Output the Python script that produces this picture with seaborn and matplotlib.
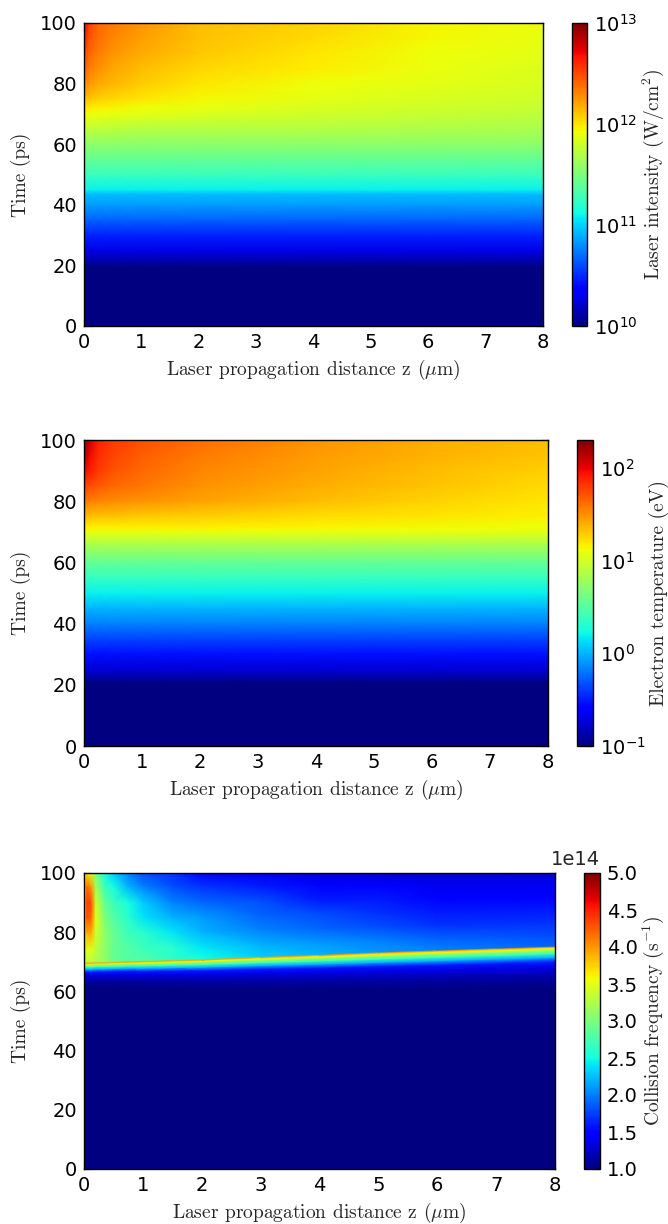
import numpy as np
import seaborn as sns
import matplotlib
matplotlib.use('Agg')
import matplotlib.pyplot as plt
from matplotlib.colors import LogNorm, Normalize

sns.set_style("white")
plt.rcParams['font.family'] = ['DejaVu Sans']
plt.rcParams['mathtext.fontset'] = 'dejavusans'
plt.rcParams['axes.unicode_minus'] = False

W, H = 668, 1224

z_grid = [0, 0.1, 0.25, 0.5, 1, 2, 4, 6, 8]

# laser intensity, log10(W/cm2)
i_t_low = [0, 19.5, 21, 25, 30, 35, 40, 43.5, 45, 50, 55, 60]
i_low = [10, 10, 10.1, 10.27, 10.48, 10.66, 10.84, 10.93, 11.08, 11.26, 11.41, 11.56]
i_t_high = [65, 70, 72, 75, 80, 85, 90, 95, 100]
i_high = [
    [11.74, 11.74, 11.74, 11.73, 11.71, 11.71, 11.70, 11.68, 11.67],
    [11.94, 11.92, 11.91, 11.89, 11.88, 11.85, 11.80, 11.77, 11.74],
    [12.00, 11.98, 11.965, 11.95, 11.92, 11.89, 11.83, 11.80, 11.77],
    [12.13, 12.10, 12.07, 12.04, 12.00, 11.94, 11.875, 11.83, 11.80],
    [12.30, 12.24, 12.19, 12.15, 12.085, 12.00, 11.92, 11.875, 11.83],
    [12.42, 12.33, 12.27, 12.20, 12.13, 12.04, 11.97, 11.90, 11.85],
    [12.52, 12.40, 12.33, 12.25, 12.18, 12.09, 12.00, 11.92, 11.875],
    [12.63, 12.46, 12.37, 12.30, 12.22, 12.12, 12.03, 11.94, 11.89],
    [12.72, 12.52, 12.40, 12.34, 12.25, 12.13, 12.06, 11.95, 11.905],
]

# electron temperature, log10(eV)
te_t_low = [0, 20.5, 22, 25, 30, 35, 40, 45, 50, 55, 60, 66]
te_low = [-1, -1, -0.9, -0.75, -0.54, -0.36, -0.17, 0.0, 0.19, 0.37, 0.55, 0.85]
te_t_high = [70, 70.8, 72, 75, 80, 85, 90, 95, 100]
te_high = [
    [1.08, 1.08, 1.08, 1.08, 1.08, 1.08, 1.08, 1.08, 1.06],
    [1.13, 1.13, 1.13, 1.13, 1.13, 1.13, 1.12, 1.11, 1.10],
    [1.18, 1.18, 1.18, 1.18, 1.18, 1.18, 1.16, 1.14, 1.11],
    [1.34, 1.33, 1.31, 1.31, 1.29, 1.28, 1.23, 1.20, 1.16],
    [1.57, 1.56, 1.54, 1.51, 1.48, 1.43, 1.34, 1.26, 1.20],
    [1.77, 1.74, 1.69, 1.64, 1.59, 1.49, 1.39, 1.31, 1.24],
    [1.97, 1.89, 1.81, 1.72, 1.64, 1.54, 1.43, 1.34, 1.28],
    [2.20, 1.97, 1.84, 1.76, 1.67, 1.57, 1.46, 1.38, 1.31],
    [2.30, 2.07, 1.90, 1.79, 1.71, 1.61, 1.48, 1.39, 1.34],
]

# collision frequency, 1e14 1/s, follows the tilted front
nu_z = [0, 0.05, 0.12, 0.2, 0.35, 0.5, 0.75, 1, 1.5, 2, 3, 4, 5, 6, 8]
nu_front_t = [69.6, 69.6, 69.6, 69.7, 69.7, 69.8, 70, 70.1, 70.4, 70.7, 71.5, 72.2, 73, 73.7, 75]
nu_front_width = [0.6, 0.6, 0.6, 0.6, 0.6, 0.6, 0.62, 0.65, 0.68, 0.72, 0.78, 0.84, 0.9, 0.95, 1.0]
nu_below_dt = [-14, -10, -7, -5, -3.5, -2.2, -1.2, -0.5, 0]
nu_below = [1.0, 1.15, 1.35, 1.6, 2.2, 2.7, 3.1, 3.6, 3.95]
nu_above_frac = [0.015, 0.15, 0.33, 0.5, 0.67, 0.85, 1.0]
nu_above = [
    [3.2, 3.3, 3.3, 3.2, 3.1, 2.9, 2.8, 2.8, 2.6, 2.5, 2.3, 2.2, 2.1, 2.0, 1.9],
    [3.2, 3.5, 3.5, 3.3, 3.1, 2.9, 2.8, 2.7, 2.6, 2.4, 2.2, 2.1, 2.0, 1.9, 1.8],
    [3.4, 3.9, 3.9, 3.4, 3.1, 2.9, 2.7, 2.6, 2.4, 2.2, 2.0, 1.9, 1.8, 1.7, 1.7],
    [3.6, 4.3, 4.2, 3.5, 3.0, 2.8, 2.6, 2.4, 2.2, 2.1, 1.9, 1.8, 1.7, 1.6, 1.6],
    [3.7, 4.4, 4.3, 3.4, 2.9, 2.7, 2.5, 2.3, 2.0, 1.9, 1.8, 1.6, 1.6, 1.5, 1.5],
    [3.6, 4.2, 4.0, 3.2, 2.7, 2.5, 2.2, 2.0, 1.8, 1.7, 1.6, 1.5, 1.5, 1.4, 1.4],
    [3.2, 3.7, 3.4, 3.0, 2.5, 2.3, 2.0, 1.8, 1.7, 1.5, 1.4, 1.35, 1.3, 1.3, 1.3],
]

xticks = list(range(9))
yticks = [0, 20, 40, 60, 80, 100]
xlabel = r'Laser propagation distance z ($\mu$m)'


def px_rect(left, top, right, bottom):
    return [left / W, 1 - bottom / H, (right - left) / W, (bottom - top) / H]


def draw_panel(axes_px, cbar_px, X, Y, C, norm, cticks, clabels, cbar_label):
    ax = fig.add_axes(px_rect(*axes_px))
    cax = fig.add_axes(px_rect(*cbar_px))
    sns.heatmap(C, ax=ax, cbar_ax=cax, cmap='jet', norm=norm, xticklabels=False, yticklabels=False)
    cb = ax.collections[0].colorbar
    # heatmap cells are index based, swap them for a smooth mesh on real axes
    ax.collections[0].remove()
    ax.pcolormesh(X, Y, C, cmap='jet', norm=norm, shading='gouraud')
    ax.set_xlim(0, 8)
    ax.set_ylim(0, 100)
    ax.set_xticks(xticks, [str(v) for v in xticks])
    ax.set_yticks(yticks, [str(v) for v in yticks])
    ax.tick_params(direction='in', length=5, width=0.8, top=True, right=True,
                   bottom=True, left=True, labelsize=14, pad=5, colors='black')
    for s in ax.spines.values():
        s.set_visible(True)
        s.set_color('black')
        s.set_linewidth(1)
    ax.set_xlabel(xlabel, family='cmr10', fontsize=14, math_fontfamily='cm', labelpad=4)
    ax.set_ylabel('Time (ps)', family='cmr10', fontsize=14, labelpad=6.5)

    cb.outline.set_linewidth(1)
    cb.outline.set_edgecolor('black')
    cb.set_ticks(cticks, labels=clabels)
    cb.ax.minorticks_off()
    cb.ax.tick_params(direction='in', length=5, width=0.8, right=True, left=False,
                      labelsize=14, pad=5, colors='black')
    cb.set_label(cbar_label, family='cmr10', fontsize=14, math_fontfamily='cm', labelpad=2)
    return ax, cax


fig = plt.figure(figsize=(W / 100, H / 100), dpi=100)
z_arr = np.array(z_grid)

# top panel
t1 = np.array(i_t_low + i_t_high)
c1 = np.vstack([np.tile(np.array(i_low)[:, None], (1, len(z_grid))), np.array(i_high)])
draw_panel((84, 23, 543, 326), (572, 23, 587, 326), z_arr, t1, 10.0 ** c1,
           LogNorm(1e10, 1e13), [1e10, 1e11, 1e12, 1e13],
           [r'$10^{10}$', r'$10^{11}$', r'$10^{12}$', r'$10^{13}$'],
           r'Laser intensity (W/cm$^2$)')

# middle panel
t2 = np.array(te_t_low + te_t_high)
c2 = np.vstack([np.tile(np.array(te_low)[:, None], (1, len(z_grid))), np.array(te_high)])
draw_panel((84, 440, 548, 746), (577, 440, 593, 746), z_arr, t2, 10.0 ** c2,
           LogNorm(0.1, 200), [0.1, 1, 10, 100],
           [r'$10^{-1}$', r'$10^{0}$', r'$10^{1}$', r'$10^{2}$'],
           'Electron temperature (eV)')

# bottom panel, mesh rows bend with the front
front = np.array(nu_front_t)
width = np.array(nu_front_width)
rows_t = [np.zeros(len(nu_z))]
rows_c = [np.full(len(nu_z), 1.0)]
for dt, v in zip(nu_below_dt, nu_below):
    rows_t.append(front + dt * width)
    rows_c.append(np.full(len(nu_z), v))
for frac, vals in zip(nu_above_frac, nu_above):
    rows_t.append(front + frac * (100 - front))
    rows_c.append(np.array(vals))
t3 = np.vstack(rows_t)
c3 = np.vstack(rows_c) * 1e14
z3 = np.tile(np.array(nu_z), (t3.shape[0], 1))
ax3, cax3 = draw_panel((84, 873, 555, 1169), (584, 873, 600, 1169), z3, t3, c3,
                       Normalize(1e14, 5e14), [v * 1e14 for v in [1, 1.5, 2, 2.5, 3, 3.5, 4, 4.5, 5]],
                       ['1.0', '1.5', '2.0', '2.5', '3.0', '3.5', '4.0', '4.5', '5.0'],
                       r'Collision frequency (s$^{-1}$)')
cax3.text(1, 1.012, '1e14', ha='right', va='bottom', transform=cax3.transAxes, fontsize=14)

fig.savefig('out.png', dpi=100)
